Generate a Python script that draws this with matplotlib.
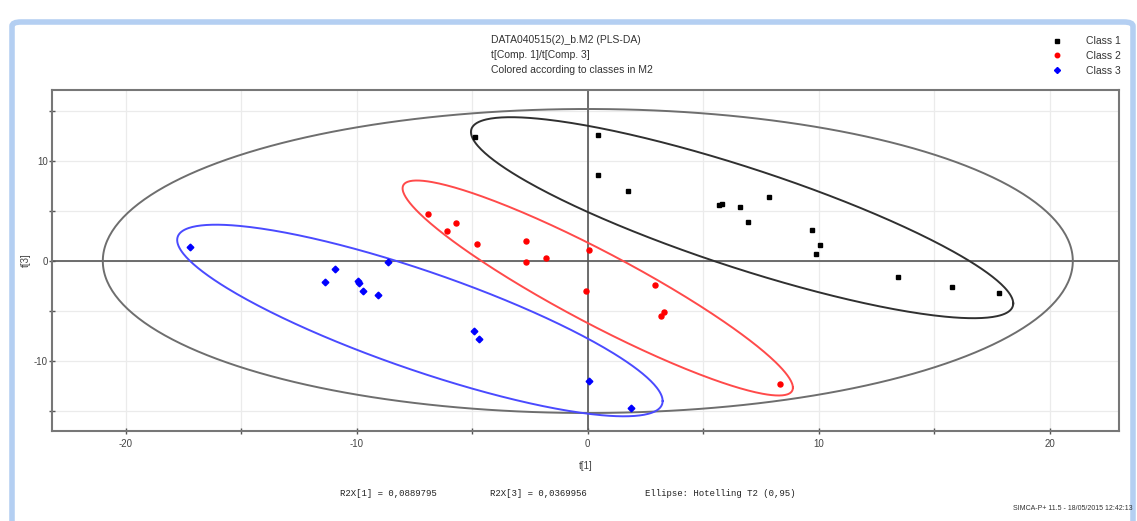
import numpy as np
import matplotlib
matplotlib.use('Agg')
import matplotlib.pyplot as plt
from matplotlib.patches import FancyBboxPatch

plt.rcParams['axes.unicode_minus'] = False

# score values, t[1] / t[3]
class1_x = [-4.87, 0.43, 0.46, 1.75, 5.70, 5.81, 6.59, 7.85, 6.94, 9.72, 10.06, 9.86, 13.45, 15.79, 17.82]
class1_y = [12.37, 12.6, 8.6, 7.03, 5.63, 5.7, 5.43, 6.37, 3.87, 3.13, 1.63, 0.70, -1.6, -2.6, -3.17]

class2_x = [-6.90, -6.10, -5.71, -4.78, -2.68, -2.68, -1.80, 0.03, -0.09, 2.89, 3.16, 3.30, 8.31]
class2_y = [4.67, 3.0, 3.77, 1.7, 1.97, -0.07, 0.27, 1.1, -3.0, -2.37, -5.47, -5.07, -12.3]

class3_x = [-17.23, -10.94, -11.40, -9.97, -9.91, -9.75, -9.09, -8.66, -4.92, -4.72, 0.03, 1.86]
class3_y = [1.37, -0.77, -2.13, -2.0, -2.17, -2.97, -3.37, -0.1, -7.03, -7.8, -12.0, -14.7]

# ellipses: centre x, centre y, x half-range, y half-range, correlation
hotelling = (0.0, 0.0, 21.0, 15.2, 0.0)
class1_ell = (6.68, 4.33, 11.74, 10.05, -0.853)
class2_ell = (0.43, -2.7, 8.45, 10.75, -0.927)
class3_ell = (-7.27, -5.95, 10.51, 9.58, -0.84)

r2x = ['R2X[1] = 0,0889795', 'R2X[3] = 0,0369956', 'Ellipse: Hotelling T2 (0,95)']
title_lines = ['DATA040515(2)_b.M2 (PLS-DA)', 't[Comp. 1]/t[Comp. 3]', 'Colored according to classes in M2']

SANS = ['Liberation Sans', 'DejaVu Sans']
MONO = ['Liberation Mono', 'DejaVu Sans Mono']


def ellipse_xy(params, n=400):
    cx, cy, sx, sy, rho = params
    t = np.linspace(0, 2 * np.pi, n)
    x = cx + sx * np.cos(t)
    y = cy + sy * (rho * np.cos(t) + np.sqrt(1 - rho ** 2) * np.sin(t))
    return x, y


fig = plt.figure(figsize=(11.37, 5.21), dpi=100)

# light blue window frame
frame = FancyBboxPatch((12 / 1137, -0.05), 1121 / 1137, (521 - 22) / 521 + 0.05,
                       boxstyle='round,pad=0,rounding_size=0.008', transform=fig.transFigure,
                       facecolor='none', edgecolor='#b4cff2', linewidth=4, zorder=-10)
fig.patches.append(frame)

ax = fig.add_axes([52 / 1137, (521 - 431) / 521, (1119 - 52) / 1137, (431 - 90) / 521])
ax.set_xlim(-23.2, 23.0)
ax.set_ylim(-17.0, 17.1)

ax.set_xticks([-20, -10, 0, 10, 20])
ax.set_xticks([-15, -5, 5, 15], minor=True)
ax.set_yticks([-10, 0, 10])
ax.set_yticks([-15, -5, 5, 15], minor=True)
ax.grid(True, which='both', color='#ebebeb', lw=0.9, zorder=0)
ax.set_axisbelow(True)
ax.tick_params(which='both', direction='inout', length=4, width=1, color='#555555',
               labelsize=7, labelcolor='#444444')
ax.tick_params(axis='y', pad=1)
for lab in ax.get_xticklabels() + ax.get_yticklabels():
    lab.set_family(SANS)
for s in ax.spines.values():
    s.set_color('#777777')
    s.set_linewidth(1.5)

ax.axhline(0, color='#555555', lw=1.2, zorder=1)
ax.axvline(0, color='#555555', lw=1.2, zorder=1)

for params, col in [(hotelling, '#6e6e6e'), (class1_ell, '#303030'),
                    (class2_ell, '#ff4a4a'), (class3_ell, '#4a4aff')]:
    ex, ey = ellipse_xy(params)
    ax.plot(ex, ey, color=col, lw=1.4, zorder=2)

ax.plot(class1_x, class1_y, 's', color='black', ms=3.2, ls='none', zorder=3, label='Class 1')
ax.plot(class2_x, class2_y, 'o', color='red', ms=3.6, ls='none', zorder=3, label='Class 2')
ax.plot(class3_x, class3_y, 'D', color='blue', ms=3.4, ls='none', zorder=3, label='Class 3')

ax.set_xlabel('t[1]', fontsize=7, family=SANS, color='#444444')
ax.xaxis.set_label_coords(0.5, -(461 - 431) / 341)
ax.set_ylabel('t[3]', fontsize=7, family=SANS, color='#444444')
ax.yaxis.set_label_coords(-(52 - 31) / 1067, 0.5)

# title block
for i, line in enumerate(title_lines):
    fig.text(491 / 1137, 1 - (40 + 15 * i) / 521, line, fontsize=7.5, family=SANS,
             color='#333333', va='center', ha='left')

# legend
leg = ax.legend(loc='upper left', bbox_to_anchor=(1040 / 1137, 1 - 27 / 521),
                bbox_transform=fig.transFigure, frameon=False, fontsize=7.5,
                handletextpad=2.0, labelspacing=0.45, markerscale=0.9, handlelength=1.5)
for t in leg.get_texts():
    t.set_family(SANS)
    t.set_color('#333333')

# footer
for txt, xp in zip(r2x, [340, 490, 645]):
    fig.text(xp / 1137, 1 - 493 / 521, txt, fontsize=6.5, family=MONO,
             color='#222222', va='center', ha='left')
fig.text(1133 / 1137, 1 - 508 / 521, 'SIMCA-P+ 11.5 - 18/05/2015 12:42:13', fontsize=5,
         family=SANS, color='#333333', va='center', ha='right')

fig.savefig('out.png', dpi=100)
